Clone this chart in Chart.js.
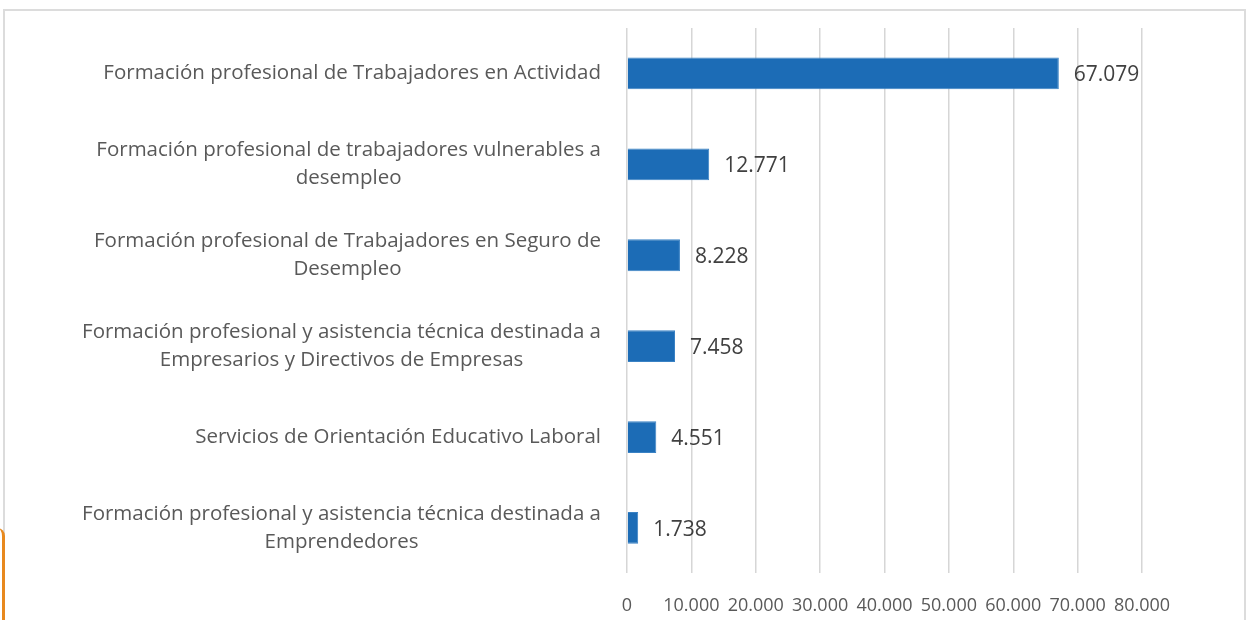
<!DOCTYPE html>
<html>
<head>
<meta charset="utf-8">
<script src="https://cdn.jsdelivr.net/npm/chart.js@4.4.1/dist/chart.umd.min.js"></script>
<style>
  body { margin: 0; background: #fff; }
  .frame { position: absolute; left: 3px; top: 9px; width: 1239px; height: 640px; border: 2px solid #dcdcdc; }
  .edge { position: absolute; left: -3px; top: 528px; width: 5px; height: 100px; border-right: 3px solid #e8891e; border-radius: 0 60px 0 0; }
  canvas { position: absolute; left: 0; top: 0; }
</style>
</head>
<body>
<div class="frame"></div>
<div class="edge"></div>
<canvas id="barChart" width="1246" height="620"></canvas>
<script>
  // categories (multi-line labels as in the original)
  var categories = [
    ["Formación profesional de Trabajadores en Actividad"],
    ["Formación profesional de trabajadores vulnerables a", "desempleo"],
    ["Formación profesional de Trabajadores en Seguro de", "Desempleo"],
    ["Formación profesional y asistencia técnica destinada a", "Empresarios y Directivos de Empresas"],
    ["Servicios de Orientación Educativo Laboral"],
    ["Formación profesional y asistencia técnica destinada a", "Emprendedores"]
  ];
  var values = [67079, 12771, 8228, 7458, 4551, 1738];
  var xMin = 0, xMax = 80000, xStep = 10000;

  var FONT = "'Open Sans', sans-serif";

  function fmt(n) {
    return String(n).replace(/\B(?=(\d{3})+(?!\d))/g, ".");
  }

  // category labels: block right aligned, lines centered within block
  var catLabels = {
    id: "catLabels",
    afterDraw: function (chart) {
      var ctx = chart.ctx;
      var yScale = chart.scales.y;
      var right = chart.chartArea.left - 26;
      var lh = 28;
      ctx.save();
      ctx.font = "20.5px " + FONT;
      ctx.fillStyle = "#595959";
      ctx.textAlign = "center";
      ctx.textBaseline = "middle";
      categories.forEach(function (lines, i) {
        var y = yScale.getPixelForValue(i);
        var w = 0;
        lines.forEach(function (l) { w = Math.max(w, ctx.measureText(l).width); });
        var cx = right - w / 2;
        var y0 = y - (lines.length - 1) * lh / 2;
        lines.forEach(function (l, k) { ctx.fillText(l, cx, y0 + k * lh); });
      });
      ctx.restore();
    }
  };

  // value labels at the end of each bar
  var valueLabels = {
    id: "valueLabels",
    afterDatasetsDraw: function (chart) {
      var ctx = chart.ctx;
      var meta = chart.getDatasetMeta(0);
      ctx.save();
      ctx.font = "21px " + FONT;
      ctx.fillStyle = "#404040";
      ctx.textAlign = "left";
      ctx.textBaseline = "middle";
      meta.data.forEach(function (bar, i) {
        ctx.fillText(fmt(values[i]), bar.x + 15, bar.y + 2);
      });
      ctx.restore();
    }
  };

  var ctxB = document.getElementById("barChart").getContext("2d");
  var myChart = new Chart(ctxB, {
    type: "bar",
    data: {
      labels: categories,
      datasets: [
        {
          data: values,
          backgroundColor: "#1c6cb6",
          borderColor: "#3a82c4",
          borderWidth: 1,
          barPercentage: 0.35,
          categoryPercentage: 1
        }
      ]
    },
    options: {
      indexAxis: "y",
      responsive: false,
      animation: false,
      layout: { padding: { left: 627, right: 104, top: 28, bottom: -19 } },
      plugins: { legend: { display: false }, tooltip: { enabled: false } },
      scales: {
        x: {
          min: xMin,
          max: xMax,
          ticks: {
            stepSize: xStep,
            padding: 22,
            color: "#595959",
            font: { family: FONT, size: 18 },
            maxRotation: 0,
            autoSkip: false,
            callback: function (v) { return fmt(v); }
          },
          grid: { color: "#d6d6d6", lineWidth: 1.5, drawTicks: false },
          border: { display: false }
        },
        y: { display: false }
      }
    },
    plugins: [catLabels, valueLabels]
  });
</script>
</body>
</html>
